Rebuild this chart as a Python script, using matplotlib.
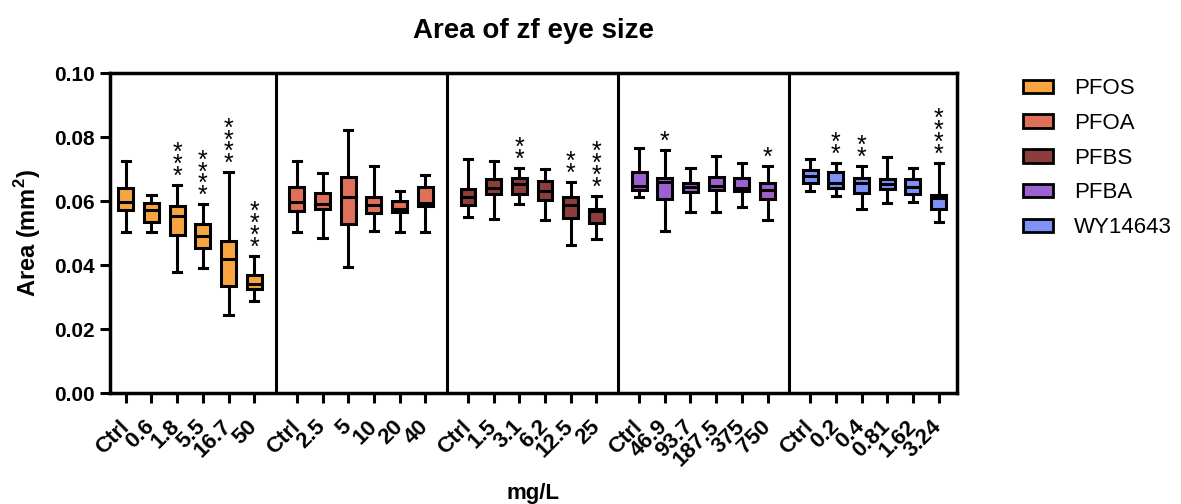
import matplotlib.pyplot as plt

plt.rcParams['font.family'] = ['Liberation Sans', 'DejaVu Sans']
plt.rcParams['mathtext.fontset'] = 'custom'
plt.rcParams['mathtext.rm'] = 'Liberation Sans:bold'
plt.rcParams['mathtext.bf'] = 'Liberation Sans:bold'

groups = ['PFOS', 'PFOA', 'PFBS', 'PFBA', 'WY14643']
colors = ['#F8A541', '#E1705A', '#8E3D3D', '#9D61D0', '#7D92F8']
doses = [
    ['Ctrl', '0.6', '1.8', '5.5', '16.7', '50'],
    ['Ctrl', '2.5', '5', '10', '20', '40'],
    ['Ctrl', '1.5', '3.1', '6.2', '12.5', '25'],
    ['Ctrl', '46.9', '93.7', '187.5', '375', '750'],
    ['Ctrl', '0.2', '0.4', '0.81', '1.62', '3.24'],
]

# box plot summaries (mm^2)
whishi = [
    [0.0725, 0.0619, 0.0650, 0.0590, 0.0690, 0.0429],
    [0.0725, 0.0687, 0.0823, 0.0709, 0.0633, 0.0682],
    [0.0730, 0.0725, 0.0703, 0.0699, 0.0660, 0.0616],
    [0.0767, 0.0761, 0.0702, 0.0742, 0.0719, 0.0710],
    [0.0730, 0.0719, 0.0709, 0.0738, 0.0702, 0.0719],
]
q3 = [
    [0.0642, 0.0595, 0.0586, 0.0528, 0.0476, 0.0370],
    [0.0643, 0.0624, 0.0674, 0.0614, 0.0599, 0.0643],
    [0.0638, 0.0668, 0.0673, 0.0663, 0.0614, 0.0575],
    [0.0691, 0.0671, 0.0655, 0.0676, 0.0671, 0.0655],
    [0.0696, 0.0691, 0.0673, 0.0670, 0.0669, 0.0619],
]
med = [
    [0.0596, 0.0572, 0.0554, 0.0492, 0.0418, 0.0341],
    [0.0598, 0.0590, 0.0612, 0.0587, 0.0576, 0.0594],
    [0.0614, 0.0642, 0.0654, 0.0633, 0.0587, 0.0568],
    [0.0648, 0.0660, 0.0645, 0.0647, 0.0642, 0.0636],
    [0.0678, 0.0658, 0.0658, 0.0653, 0.0645, 0.0611],
]
q1 = [
    [0.0572, 0.0535, 0.0494, 0.0454, 0.0334, 0.0324],
    [0.0570, 0.0576, 0.0528, 0.0564, 0.0566, 0.0585],
    [0.0588, 0.0623, 0.0622, 0.0602, 0.0547, 0.0533],
    [0.0635, 0.0607, 0.0628, 0.0635, 0.0631, 0.0606],
    [0.0656, 0.0641, 0.0624, 0.0638, 0.0622, 0.0575],
]
whislo = [
    [0.0504, 0.0503, 0.0379, 0.0392, 0.0244, 0.0289],
    [0.0504, 0.0485, 0.0394, 0.0506, 0.0503, 0.0504],
    [0.0549, 0.0545, 0.0591, 0.0540, 0.0464, 0.0483],
    [0.0613, 0.0507, 0.0566, 0.0566, 0.0580, 0.0540],
    [0.0630, 0.0617, 0.0574, 0.0593, 0.0596, 0.0535],
]
stars = [
    ['', '', '***', '****', '****', '****'],
    ['', '', '', '', '', ''],
    ['', '', '**', '', '**', '****'],
    ['', '*', '', '', '', '*'],
    ['', '**', '**', '', '', '****'],
]

step = 6.66
fig = plt.figure(figsize=(11.81, 5.04), dpi=100)
ax = fig.add_axes([0.093, 0.220, 0.717, 0.635])

ticks = []
labels = []
for g in range(len(groups)):
    pos = [g * step + j for j in range(6)]
    st = []
    for j in range(6):
        st.append({'med': med[g][j], 'q1': q1[g][j], 'q3': q3[g][j],
                   'whislo': whislo[g][j], 'whishi': whishi[g][j], 'fliers': []})
    ax.bxp(st, positions=pos, widths=0.58, patch_artist=True, showfliers=False,
           boxprops=dict(facecolor=colors[g], edgecolor='black', linewidth=2.2),
           medianprops=dict(color='black', linewidth=2.2),
           whiskerprops=dict(color='black', linewidth=2.2),
           capprops=dict(color='black', linewidth=2.2), capwidths=0.32)
    for j in range(6):
        if stars[g][j]:
            ax.text(pos[j], whishi[g][j] - 0.0012, '\n'.join(stars[g][j]),
                    ha='center', va='bottom', fontsize=18, linespacing=0.36)
    ticks += pos
    labels += doses[g]
    ax.bar(0, 0, color=colors[g], edgecolor='black', linewidth=2, label=groups[g])
    if g < len(groups) - 1:
        ax.axvline(g * step + 5.83, color='black', linewidth=2.2)

ax.set_xlim(-0.62, 4 * step + 5.7)
ax.set_ylim(0, 0.1)
ax.set_yticks([0, 0.02, 0.04, 0.06, 0.08, 0.10])
ax.set_yticklabels(['0.00', '0.02', '0.04', '0.06', '0.08', '0.10'], fontweight='bold', fontsize=15)
ax.set_xticks(ticks)
ax.set_xticklabels(labels, rotation=45, ha='right', va='center', rotation_mode='anchor',
                   fontweight='bold', fontsize=16)
ax.tick_params(axis='both', width=2.2, length=7, direction='out')
ax.tick_params(axis='x', pad=15)
for s in ax.spines.values():
    s.set_linewidth(2.5)

ax.set_ylabel(r'Area (mm$^{2}$)', fontweight='bold', fontsize=17, labelpad=8)
ax.set_xlabel('mg/L', fontweight='bold', fontsize=16, labelpad=9)
ax.set_title('Area of zf eye size', fontweight='bold', fontsize=20, pad=25)

ax.legend(loc='upper left', bbox_to_anchor=(0.866, 0.845), bbox_transform=fig.transFigure,
          frameon=False, fontsize=16, handlelength=1.35, handleheight=0.55,
          handletextpad=0.95, labelspacing=0.62, borderpad=0, borderaxespad=0)

fig.savefig('out.png', dpi=100)
